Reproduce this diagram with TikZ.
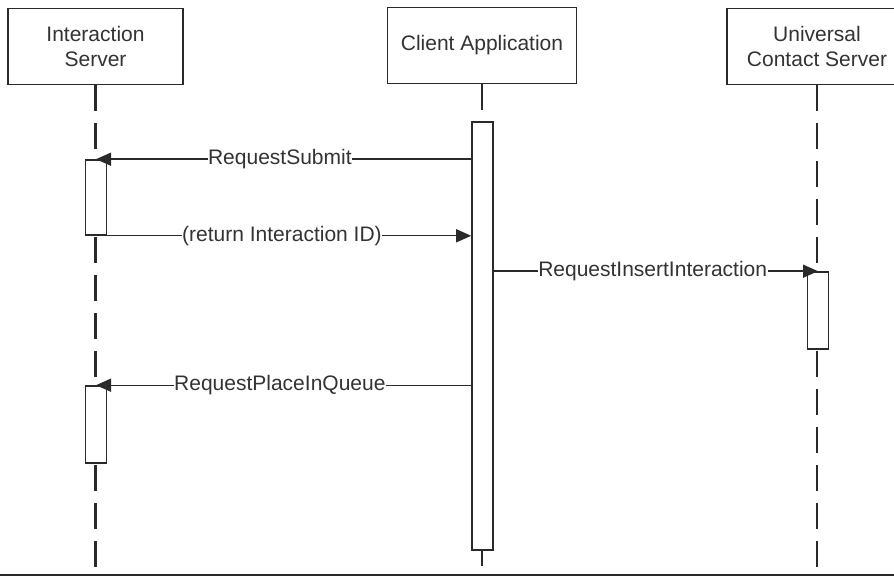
\documentclass[tikz,border=0pt]{standalone}
\usepackage{fontspec}
\setmainfont{Liberation Sans}
\usetikzlibrary{arrows.meta}
\definecolor{txt}{HTML}{333333}
\definecolor{ln}{HTML}{2A2A2A}
\tikzset{
  actor/.style={draw=ln, line width=1.6pt, fill=white, rectangle, align=center,
    minimum height=76pt, inner sep=0pt, text=txt,
    font=\fontsize{21}{25}\selectfont},
  bar/.style={draw=ln, line width=1.6pt, fill=white, rectangle, minimum width=21pt, inner sep=0pt},
  lifeline/.style={draw=ln, line width=2.6pt, dash pattern=on 26pt off 12pt},
  msg/.style={draw=ln, line width=1.4pt, -{Triangle[length=15pt,width=13pt]}},
  lbl/.style={fill=white, inner sep=0.5pt, text=txt, font=\fontsize{21}{25}\selectfont},
}
\begin{document}
\begin{tikzpicture}[x=1pt,y=-1pt]
\clip (0,0) rectangle (894,577);
\fill[white] (0,0) rectangle (894,577);
% actors
\node[actor, minimum width=175pt] (is) at (95.5,46.5) {Interaction\\Server};
\node[actor, minimum width=189pt] (ca) at (482,45.5) {Client Application};
\node[actor, minimum width=180pt] (ucs) at (817,46.5) {Universal\\Contact Server};
% bottom line
\coordinate (bl) at (0,575);
\coordinate (br) at (894,575);
\draw[draw=ln, line width=2pt] (bl) -- (br);
% lifelines
\draw[lifeline] (is.south) -- (is.south |- bl);
\draw[lifeline] (ca.south) -- (ca.south |- bl);
\draw[lifeline] (ucs.south) -- (ucs.south |- bl);
% activation bars
\node[bar, minimum height=428pt] (cbar) at (482.5,336) {};
\node[bar, minimum height=75pt] (is1) at (96,197.5) {};
\node[bar, minimum height=77pt] (is2) at (96,424.5) {};
\node[bar, minimum height=77pt] (ucs1) at (818,310.5) {};
% messages
\draw[msg] (cbar.west |- is1.north) -- (is1.north)
  node[lbl, pos=0.51] {RequestSubmit};
\draw[msg] (is1.south east) -- (cbar.west |- is1.south east)
  node[lbl, pos=0.48] {(return Interaction ID)};
\draw[msg] (cbar.east |- ucs1.north) -- (ucs1.north)
  node[lbl, pos=0.49] {RequestInsertInteraction};
\draw[msg] (cbar.west |- is2.north) -- (is2.north)
  node[lbl, pos=0.51] {RequestPlaceInQueue};
\end{tikzpicture}
\end{document}
